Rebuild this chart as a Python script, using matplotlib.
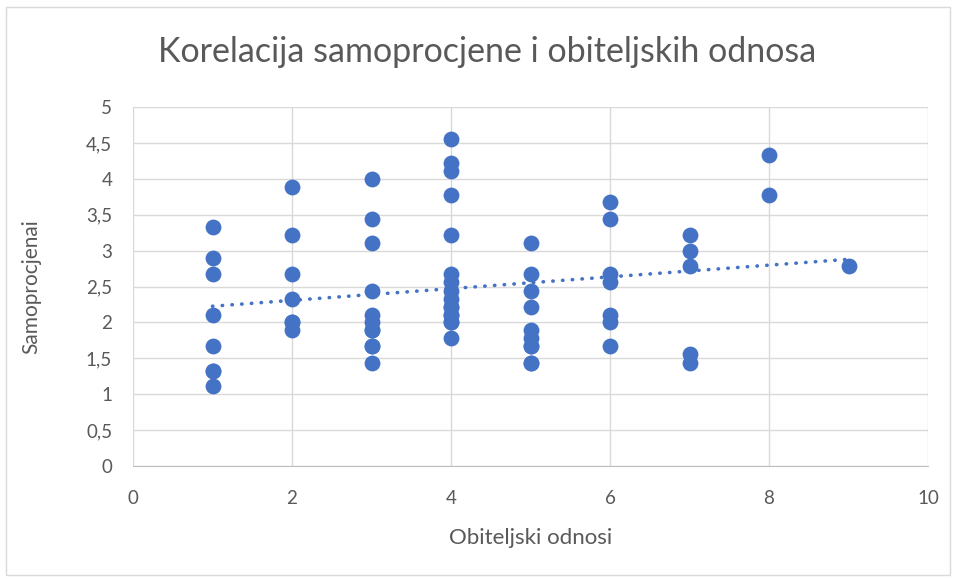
import matplotlib.pyplot as plt
import numpy as np

# Obiteljski odnosi (x) i samoprocjena (y), ocitano sa slike
# (neke tocke se preklapaju, pa su ponovljene vrijednosti dodane procjenom)
obitelj = [1, 1, 1, 1, 1, 1, 1, 1,
           2, 2, 2, 2, 2, 2, 2,
           3, 3, 3, 3, 3, 3, 3, 3, 3, 3, 3,
           4, 4, 4, 4, 4, 4, 4, 4, 4, 4, 4, 4, 4, 4, 4, 4,
           5, 5, 5, 5, 5, 5, 5, 5, 5, 5,
           6, 6, 6, 6, 6, 6, 6,
           7, 7, 7, 7, 7,
           8, 8,
           9]
samoprocjena = [3.33, 2.89, 2.67, 2.11, 1.67, 1.33, 1.33, 1.11,
                3.89, 3.22, 2.67, 2.33, 2.00, 2.00, 1.89,
                4.00, 3.44, 3.11, 2.44, 2.11, 2.00, 1.89, 1.89, 1.67, 1.67, 1.44,
                4.56, 4.22, 4.11, 3.78, 3.22, 2.67, 2.56, 2.44, 2.33, 2.22, 2.22, 2.11, 2.11, 2.00, 2.00, 1.78,
                3.11, 2.67, 2.44, 2.22, 1.89, 1.78, 1.67, 1.67, 1.44, 1.44,
                3.67, 3.44, 2.67, 2.56, 2.11, 2.00, 1.67,
                3.22, 3.00, 2.78, 1.56, 1.44,
                4.33, 3.78,
                2.78]

x = np.array(obitelj)
y = np.array(samoprocjena)

plt.rcParams['font.family'] = ['Lato', 'DejaVu Sans']

fig = plt.figure(figsize=(9.56, 5.79), dpi=100)
ax = fig.add_axes([133/956, 1-466/579, (928-133)/956, (466-107)/579])

# okvir oko grafikona
fig.patches.append(plt.Rectangle((6/956, 4/579), 944/956, 568/579, transform=fig.transFigure,
                                 fill=False, edgecolor='#D9D9D9', linewidth=1))

ax.scatter(x, y, s=130, color='#4472C4', zorder=3, linewidths=0)

# linearni trend
k, b = np.polyfit(x, y, 1)
xt = np.array([x.min(), x.max()])
ax.plot(xt, k*xt + b, color='#4472C4', linestyle=(0, (0.1, 2.6)), linewidth=2.6,
        dash_capstyle='round', zorder=2)

ax.set_xlim(0, 10)
ax.set_ylim(0, 5)
ax.set_xticks(np.arange(0, 11, 2))
yt = np.arange(0, 5.01, 0.5)
ax.set_yticks(yt)
ax.set_yticklabels([('%g' % v).replace('.', ',') for v in yt])
ax.grid(True, color='#D9D9D9', linewidth=1)
ax.set_axisbelow(True)
for s in ['top', 'right', 'left']:
    ax.spines[s].set_visible(False)
ax.spines['bottom'].set_color('#BFBFBF')
ax.tick_params(length=0, labelsize=13.5, colors='#595959')
ax.tick_params(axis='x', pad=17)
ax.tick_params(axis='y', pad=15)

ax.set_xlabel('Obiteljski odnosi', fontsize=16, color='#595959')
ax.xaxis.set_label_coords(0.5, -0.172)
ax.set_ylabel('Samoprocjenai', fontsize=15, color='#595959')
ax.yaxis.set_label_coords(-0.115, 0.5)
fig.text(487/956, 1-52/579, 'Korelacija samoprocjene i obiteljskih odnosa', fontsize=24.5,
         color='#595959', ha='center', va='center')

fig.savefig('out.png', dpi=100)
